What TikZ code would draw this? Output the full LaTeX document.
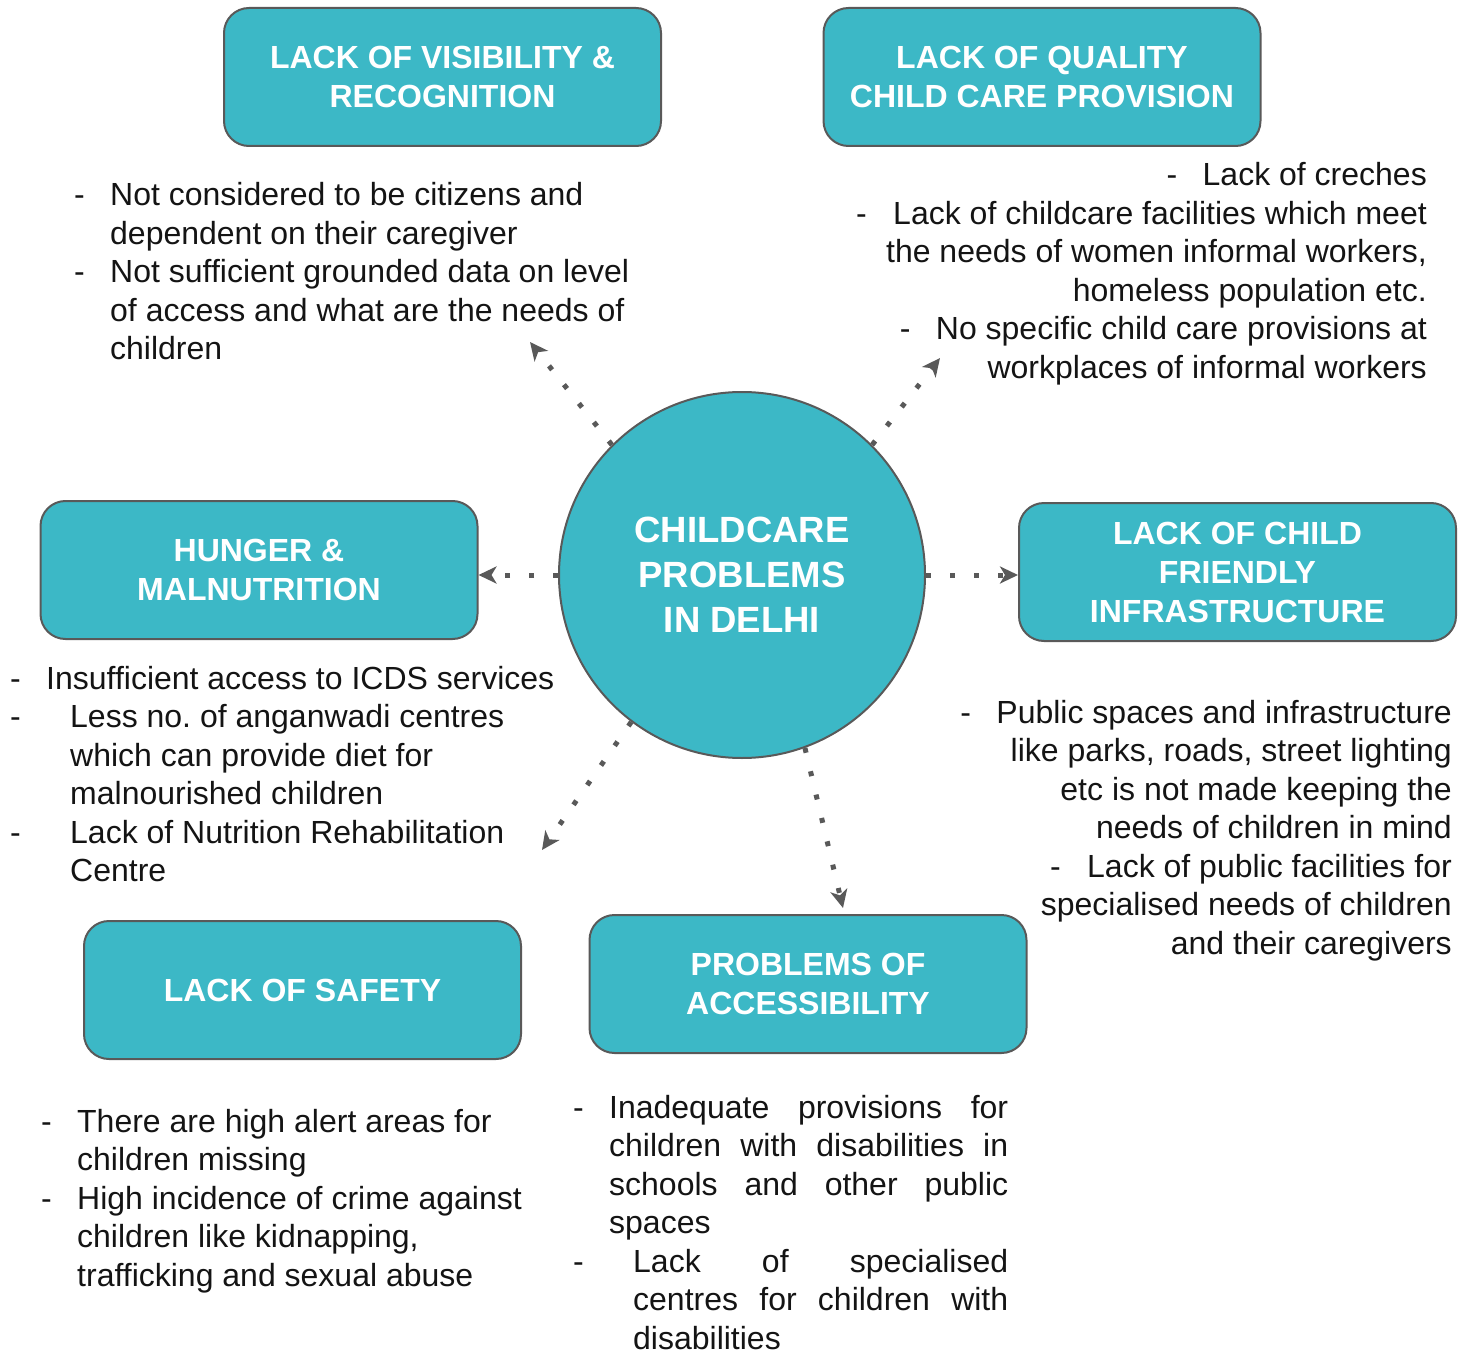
\documentclass[tikz,border=0pt]{standalone}
\usepackage{fontspec}
\setmainfont{Liberation Sans}
\usetikzlibrary{arrows.meta}

\definecolor{boxteal}{RGB}{60,184,198}
\definecolor{edgegrey}{RGB}{89,89,89}
\definecolor{inkblack}{RGB}{20,20,20}

% bullet dash hanging left of a text line
\newcommand{\dashmark}[1][36pt]{\llap{\makebox[#1][l]{-}}}

\tikzset{
  titlebox/.style={draw=edgegrey, line width=2pt, fill=boxteal, rounded corners=25pt,
    minimum width=437pt, minimum height=138pt, inner sep=0pt, align=center,
    text=white, font=\fontsize{32}{39}\selectfont\bfseries},
  hub/.style={circle, draw=edgegrey, line width=2pt, fill=boxteal, minimum size=366pt,
    inner sep=0pt, align=center, text=white, font=\fontsize{36.5}{45}\selectfont\bfseries},
  notes/.style={inner sep=0pt, text=inkblack, font=\fontsize{32}{38.5}\selectfont},
  link/.style={draw=edgegrey, line width=5pt, dash pattern=on 5pt off 19pt,
    -{Stealth[length=18pt,width=17pt,inset=5pt]}}
}

\begin{document}
\begin{tikzpicture}[x=1pt,y=-1pt]
\useasboundingbox (0,0) rectangle (1470,1351);

% central topic
\node[hub] (hub) at (742,575) {CHILDCARE\\PROBLEMS\\IN DELHI};

% problem areas
\node[titlebox] (vis)    at (442.5,77)  {LACK OF VISIBILITY \&\\RECOGNITION};
\node[titlebox] (qual)   at (1042,77)   {LACK OF QUALITY\\CHILD CARE PROVISION};
\node[titlebox] (hunger) at (259,570)   {HUNGER \&\\MALNUTRITION};
\node[titlebox] (infra)  at (1237.5,572) {LACK OF CHILD\\FRIENDLY\\INFRASTRUCTURE};
\node[titlebox] (safety) at (302.5,990) {LACK OF SAFETY};
\node[titlebox] (access) at (808,984)   {PROBLEMS OF\\ACCESSIBILITY};

% free ends of the diagonal links
\coordinate (visend)    at (530,342);
\coordinate (qualend)   at (940,358);
\coordinate (safetyend) at (542,850);
\coordinate (accessend) at (843,908);

% links from the centre
\draw[link] (hub.135) -- (visend);
\draw[link] (hub.45)  -- (qualend);
\draw[link] (hub.180) -- (hunger.east |- hub.180);
\draw[link] (hub.0)   -- (infra.west |- hub.0);
\draw[link] (hub.233) -- (safetyend);
\draw[link] (hub.290) -- (accessend);

% notes under each problem area
\node[notes, anchor=base west] (visnotes) at (110,206) {\begin{tabular}[t]{@{}l@{}}
\dashmark Not considered to be citizens and\\
dependent on their caregiver\\
\dashmark Not sufficient grounded data on level\\
of access and what are the needs of\\
children
\end{tabular}};

\node[notes, anchor=base east] (qualnotes) at (1427,186) {\begin{tabular}[t]{@{}r@{}}
\dashmark Lack of creches\\
\dashmark[37pt]Lack of childcare facilities which meet\\
the needs of women informal workers,\\
homeless population etc.\\
\dashmark No specific child care provisions at\\
workplaces of informal workers
\end{tabular}};

\node[notes, anchor=base west] (hungernotes) at (46,689) {\begin{tabular}[t]{@{}l@{}}
\dashmark Insufficient access to ICDS services\\
\hspace*{24pt}\dashmark[60pt]Less no.\ of anganwadi centres\\
\hspace*{24pt}which can provide diet for\\
\hspace*{24pt}malnourished children\\
\hspace*{24pt}\dashmark[60pt]Lack of Nutrition Rehabilitation\\
\hspace*{24pt}Centre
\end{tabular}};

\node[notes, anchor=base east] (infranotes) at (1452,723) {\begin{tabular}[t]{@{}r@{}}
\dashmark Public spaces and infrastructure\\
like parks, roads, street lighting\\
etc is not made keeping the\\
needs of children in mind\\
\dashmark[37pt]Lack of public facilities for\\
specialised needs of children\\
and their caregivers
\end{tabular}};

\node[notes, anchor=base west] (safetynotes) at (77,1132) {\begin{tabular}[t]{@{}l@{}}
\dashmark There are high alert areas for\\
children missing\\
\dashmark High incidence of crime against\\
children like kidnapping,\\
trafficking and sexual abuse
\end{tabular}};

\node[notes, anchor=base west] (accessnotes) at (609,1118) {\begin{tabular}[t]{@{}l@{}}
\dashmark\makebox[399pt][s]{Inadequate provisions for}\\
\makebox[399pt][s]{children with disabilities in}\\
\makebox[399pt][s]{schools and other public}\\
spaces\\
\hspace*{24pt}\dashmark[60pt]\makebox[375pt][s]{Lack of specialised}\\
\hspace*{24pt}\makebox[375pt][s]{centres for children with}\\
\hspace*{24pt}disabilities
\end{tabular}};
\end{tikzpicture}
\end{document}
